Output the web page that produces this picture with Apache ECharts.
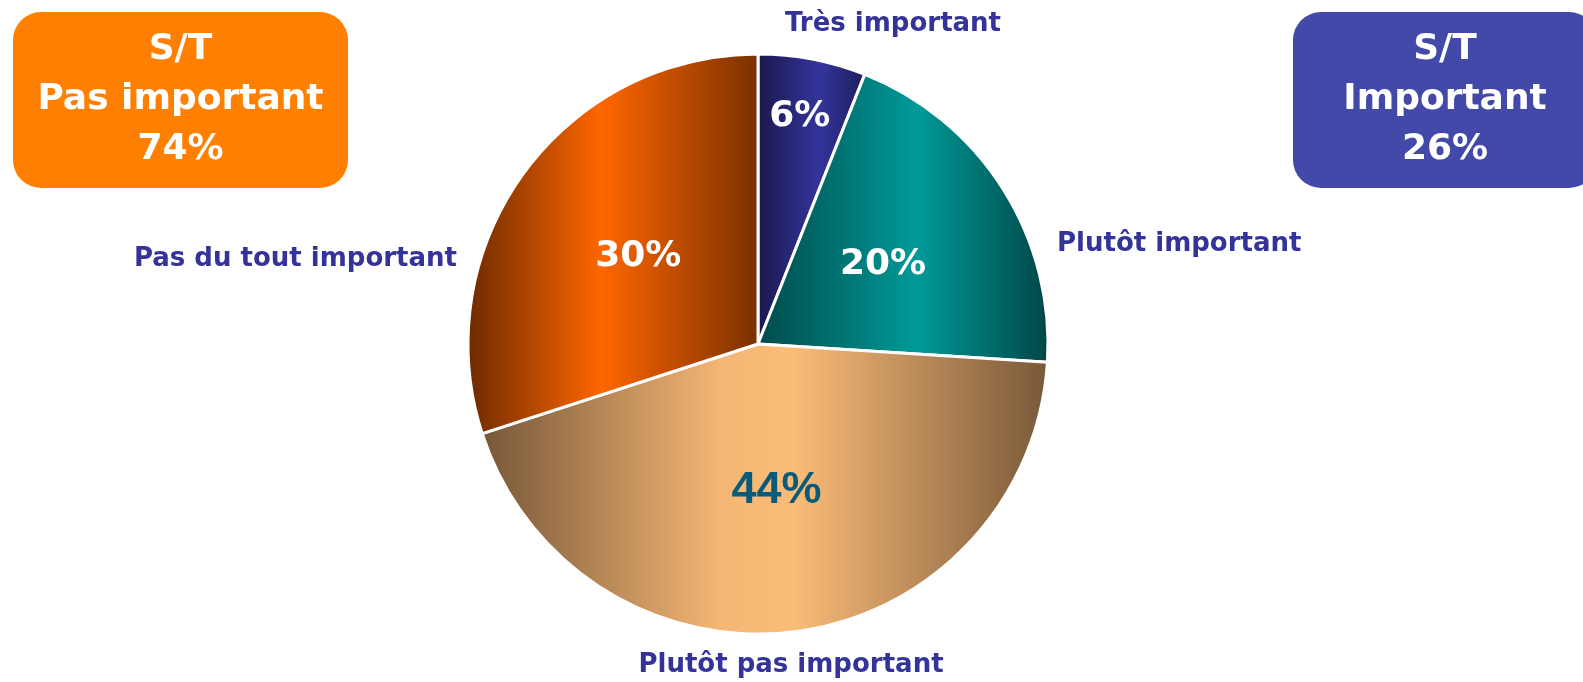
<!DOCTYPE html>
<html><head><meta charset="utf-8">
<script src="https://cdn.jsdelivr.net/npm/echarts@6/dist/echarts.min.js"></script>
<style>html,body{margin:0;padding:0;background:#fff;overflow:hidden}#c{width:1583px;height:682px}</style>
</head><body><div id="c"></div>
<script>
// ---- data ----
const categories = ['Très important', 'Plutôt important', 'Plutôt pas important', 'Pas du tout important'];
const values = [6, 20, 44, 30];
const groupTitles = ['S/T\nPas important', 'S/T\nImportant'];
const groupMembers = [[2, 3], [0, 1]];

// ---- styles ----
const gradStops = [
  [[0, '#18184c'], [0.57, '#34349c'], [1, '#1e1e5c']],
  [[0, '#004a4a'], [0.55, '#009a98'], [1, '#004646']],
  [[0, '#765638'], [0.42, '#f4b674'], [0.55, '#fbbc78'], [1, '#785839']],
  [[0, '#6c2a00'], [0.46, '#ff6600'], [1, '#783000']]
];
const pctColors = ['#ffffff', '#ffffff', '#0a5a7a', '#ffffff'];
const pctFonts = ['DejaVu Sans', 'DejaVu Sans', 'Liberation Sans', 'DejaVu Sans'];
const pctSizes = [36, 36, 45, 36];
// label placement (text anchors) for outer category names
const nameAnchors = [
  { x: 893, y: 24, align: 'center' },
  { x: 1057, y: 244, align: 'left' },
  { x: 791, y: 665, align: 'center' },
  { x: 457, y: 259, align: 'right' }
];
const CENTER = [758, 344], RADIUS = 290;

const chart = echarts.init(document.getElementById('c'), null, { renderer: 'canvas' });

const pieData = categories.map((name, i) => ({
  name, value: values[i],
  itemStyle: { color: new echarts.graphic.LinearGradient(0, 0, 1, 0, gradStops[i].map(s => ({ offset: s[0], color: s[1] }))) },
  label: { color: pctColors[i], fontFamily: pctFonts[i], fontSize: pctSizes[i] }
}));
const nameData = categories.map((name, i) => ({ name, value: values[i] }));

const groupSums = groupMembers.map(m => m.reduce((a, k) => a + values[k], 0));

const boxes = [
  { x: 13, w: 335, color: '#ff7f00' },
  { x: 1293, w: 304, color: '#4349a8' }
];
const graphics = [];
boxes.forEach((b, i) => {
  graphics.push({
    type: 'rect', left: b.x, top: 12, z: 10,
    shape: { width: b.w, height: 176, r: 28 },
    style: { fill: b.color }
  });
  graphics.push({
    type: 'text', x: b.x + b.w / 2, y: 100, z: 11,
    style: {
      text: groupTitles[i] + '\n' + groupSums[i] + '%',
      fill: '#ffffff', font: 'bold 36px "DejaVu Sans"',
      align: 'center', verticalAlign: 'middle', lineHeight: 50
    }
  });
});

chart.setOption({
  backgroundColor: '#ffffff',
  animation: false,
  series: [
    {
      type: 'pie', center: CENTER, radius: RADIUS, startAngle: 90, clockwise: true,
      silent: true,
      itemStyle: { borderColor: '#ffffff', borderWidth: 3 },
      label: {
        show: true, position: 'inside', fontWeight: 'bold',
        formatter: p => p.value + '%'
      },
      labelLayout: p => (p.dataIndex === 0 ? { dx: 14, dy: -82 } : {}),
      labelLine: { show: false },
      data: pieData
    },
    {
      type: 'pie', center: CENTER, radius: RADIUS, startAngle: 90, clockwise: true,
      silent: true,
      itemStyle: { color: 'rgba(0,0,0,0)', borderWidth: 0 },
      label: {
        show: true, position: 'outside', formatter: '{b}',
        color: '#333399', fontFamily: 'DejaVu Sans', fontWeight: 'bold', fontSize: 26
      },
      labelLine: { show: false },
      labelLayout: p => {
        const a = nameAnchors[p.dataIndex];
        return { x: a.x, y: a.y, align: a.align, verticalAlign: 'middle' };
      },
      data: nameData
    }
  ],
  graphic: graphics
});
</script>
</body></html>
